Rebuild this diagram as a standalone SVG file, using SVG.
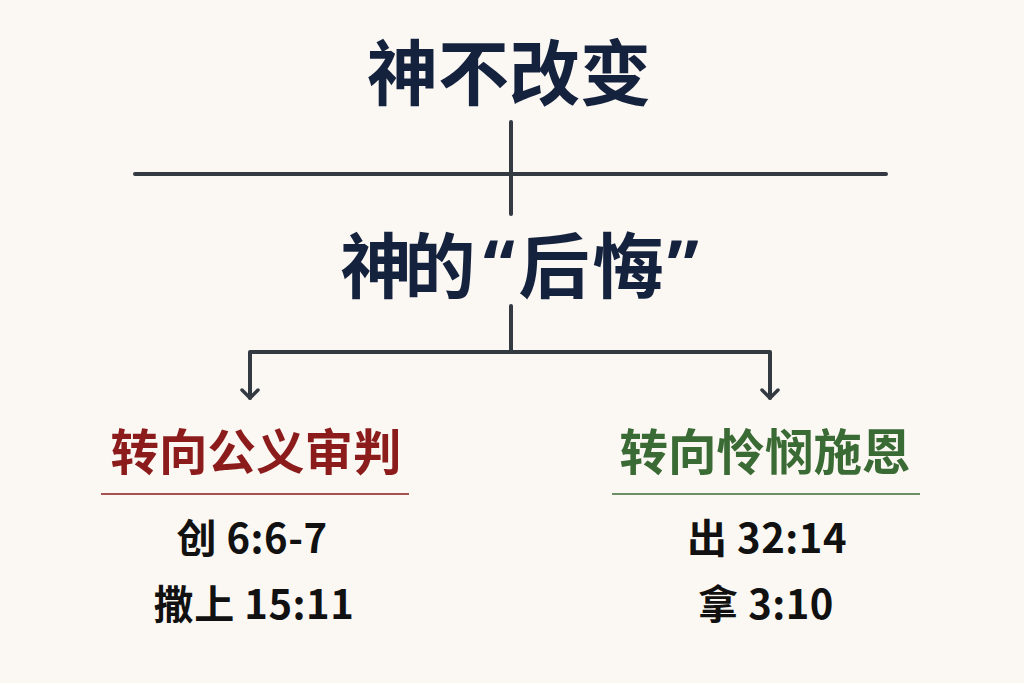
<svg xmlns="http://www.w3.org/2000/svg" width="1024" height="683" viewBox="0 0 1024 683">
<defs>
<style>
text{font-family:"Noto Sans CJK SC","Noto Sans",sans-serif;font-weight:700;text-anchor:middle}
.title{fill:#15223d;font-size:71px}
.q{font-family:"Noto Sans",sans-serif}
.head{font-size:48.5px}
.ref{fill:#111;font-size:40px;letter-spacing:0.5px}
.conn{stroke:#343a42;stroke-width:4;fill:none;stroke-linecap:round;stroke-linejoin:round}
</style>
<marker id="arr" viewBox="0 0 20 20" refX="16" refY="10" markerWidth="20" markerHeight="20" markerUnits="userSpaceOnUse" orient="auto">
<path d="M8,2 L16,10 L8,18" fill="none" stroke="#343a42" stroke-width="3.5" stroke-linecap="round" stroke-linejoin="round"/>
</marker>
</defs>
<rect width="1024" height="683" fill="#fbf8f3"/>
<g id="connectors">
<line class="conn" x1="511" y1="122" x2="511" y2="214"/>
<line class="conn" x1="135" y1="174" x2="886" y2="174"/>
<line class="conn" x1="511" y1="306" x2="511" y2="352"/>
<path class="conn" d="M511,352 H250 V398" marker-end="url(#arr)"/>
<path class="conn" d="M511,352 H770 V398" marker-end="url(#arr)"/>
</g>
<g id="title"><text class="title" x="509" y="99">神不改变</text></g>
<g id="regret"><text class="title" y="292"><tspan x="376">神</tspan><tspan x="440">的</tspan><tspan class="q" x="499">“</tspan><tspan x="554">后</tspan><tspan x="628">悔</tspan><tspan class="q" x="683">”</tspan></text></g>
<g id="justice">
<text class="head" x="256" y="470" fill="#8c1c1c">转向公义审判</text>
<line x1="101" y1="494" x2="409" y2="494" stroke="#8c1c1c" stroke-width="1.5"/>
<text class="ref" x="252" y="553">创 6:6-7</text>
<text class="ref" x="254" y="619">撒上 15:11</text>
</g>
<g id="mercy">
<text class="head" x="765" y="470" fill="#3b6b35">转向怜悯施恩</text>
<line x1="612" y1="494" x2="920" y2="494" stroke="#3b6b35" stroke-width="1.5"/>
<text class="ref" x="767" y="553">出 32:14</text>
<text class="ref" x="766" y="619">拿 3:10</text>
</g>
</svg>
